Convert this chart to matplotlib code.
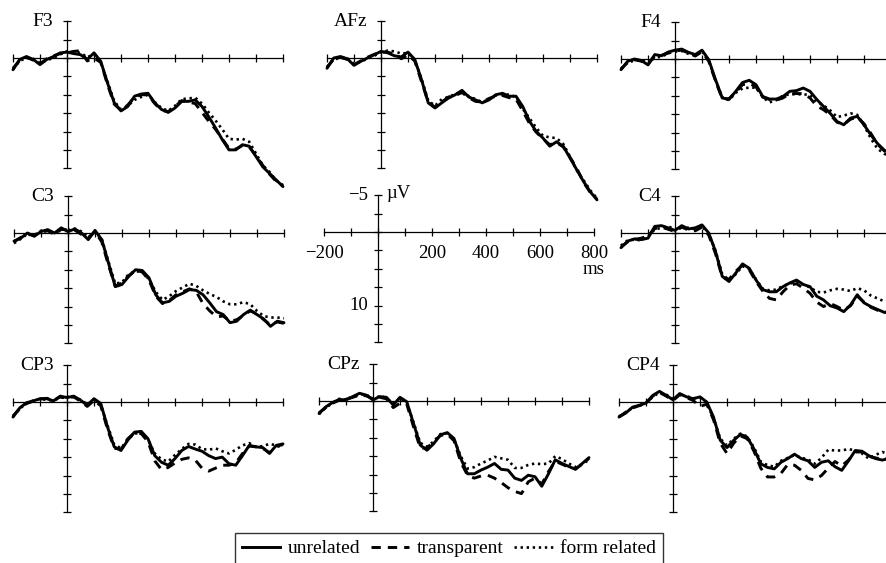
import matplotlib
matplotlib.use("Agg")
import matplotlib.pyplot as plt
from matplotlib.lines import Line2D

plt.rcParams['font.family'] = ['Liberation Serif', 'DejaVu Serif']

# time points (ms) of the sampled waveforms
TIMES = list(range(-200, 825, 25))

# amplitudes in microvolts (negative plotted up), one list per electrode/condition
F3_UNREL = [1.6, 0.2, -0.2, 0.2, 0.9, 0.2, -0.2, -0.7, -0.8, -0.6, -0.45, 0.2, -0.7, 0.45, 3.4, 6.1, 7.2, 6.6, 5.2, 4.9,
            4.8, 6.1, 7.0, 7.4, 6.8, 5.9, 5.9, 5.7, 6.6, 8.0, 9.5, 11.1, 12.5, 12.5, 11.8, 12.0, 13.4, 14.8, 15.7, 16.6, 17.5]
F3_TRANS = [1.4, 0.3, -0.1, 0.3, 0.8, 0.1, -0.3, -0.6, -0.7, -0.9, -1.0, 0.4, 0.0, 0.6, 3.6, 6.3, 7.1, 6.4, 5.3, 5.0,
            5.0, 6.2, 7.1, 7.3, 6.6, 5.8, 6.0, 6.2, 7.4, 8.6, 9.7, 11.0, 12.3, 12.4, 11.9, 12.1, 13.3, 14.6, 15.8, 16.8, 17.4]
F3_FORM = [1.5, 0.4, 0.0, 0.1, 0.7, 0.3, 0.0, -0.5, -0.9, -0.8, -0.7, -0.1, -0.5, 0.6, 3.2, 5.9, 7.0, 6.5, 5.7, 5.3,
           5.0, 6.0, 6.8, 7.2, 6.5, 5.6, 5.5, 5.4, 6.2, 7.4, 8.5, 9.7, 11.0, 11.1, 11.0, 11.4, 13.0, 14.6, 15.5, 16.7, 17.3]

AFZ_UNREL = [1.4, 0.0, -0.2, 0.1, 1.0, 0.45, 0.0, -0.45, -0.9, -0.7, -0.3, -0.15, -0.8, 0.2, 2.95, 6.1, 6.8, 6.1, 5.45, 5.0,
             4.4, 5.3, 5.7, 6.1, 5.7, 5.0, 4.8, 5.2, 5.2, 6.6, 8.6, 10.0, 10.9, 12.0, 11.4, 12.0, 13.6, 15.2, 16.8, 18.2, 19.3]
AFZ_TRANS = [1.3, 0.1, -0.1, 0.2, 0.9, 0.4, -0.1, -0.5, -0.8, -0.8, -0.5, 0.1, -0.4, 0.4, 3.2, 6.0, 6.7, 6.0, 5.3, 5.1,
             4.7, 5.4, 5.9, 6.0, 5.5, 5.2, 5.1, 5.4, 5.6, 7.2, 8.9, 10.1, 11.0, 11.8, 11.5, 12.1, 13.5, 15.0, 16.9, 18.3, 19.2]
AFZ_FORM = [1.2, 0.2, 0.0, 0.0, 0.8, 0.5, 0.1, -0.3, -0.8, -1.0, -0.9, -0.6, -0.7, 0.3, 2.8, 5.8, 6.5, 5.6, 5.3, 4.9,
            4.6, 5.2, 5.6, 6.0, 5.6, 5.1, 4.9, 5.0, 5.3, 6.9, 8.2, 9.5, 10.6, 10.8, 10.9, 11.7, 13.4, 15.3, 16.6, 18.0, 19.1]

F4_UNREL = [1.45, 0.3, 0.0, 0.2, 0.8, -0.6, -0.45, -0.95, -1.2, -1.35, -0.9, -0.6, -1.2, 0.1, 2.8, 5.3, 5.5, 4.4, 3.2, 2.9,
            3.5, 5.1, 5.45, 5.45, 5.1, 4.4, 4.3, 3.95, 4.4, 5.5, 6.45, 7.4, 8.5, 8.95, 8.05, 7.8, 8.95, 10.3, 11.5, 12.4, 12.9]
F4_TRANS = [1.4, 0.4, 0.1, 0.3, 0.7, -0.4, -0.5, -0.8, -1.1, -1.2, -0.8, -0.4, -1.0, 0.3, 3.0, 5.4, 5.4, 4.5, 3.5, 3.3,
            3.8, 5.2, 5.5, 5.6, 5.3, 4.7, 4.7, 4.7, 5.3, 6.4, 6.9, 7.6, 8.6, 8.9, 8.2, 7.9, 8.8, 10.1, 11.6, 12.5, 13.0]
F4_FORM = [1.3, 0.5, 0.2, 0.1, 0.6, -0.2, -0.3, -0.8, -1.0, -1.1, -0.7, -0.5, -1.1, 0.2, 2.9, 5.2, 5.6, 4.6, 4.0, 3.9,
           3.9, 5.2, 5.9, 5.6, 5.0, 4.8, 4.8, 4.8, 4.9, 5.8, 6.3, 7.0, 7.9, 7.7, 7.4, 7.6, 9.0, 10.8, 12.2, 12.9, 13.3]

C3_UNREL = [1.1, 0.7, 0.0, 0.45, -0.2, -0.45, 0.0, -0.7, -0.2, -0.55, 0.0, 0.9, -0.35, 0.9, 4.1, 7.3, 7.0, 5.9, 5.0, 5.1,
            6.1, 8.4, 9.5, 9.3, 8.6, 8.2, 7.7, 7.8, 8.4, 9.5, 10.7, 11.1, 12.2, 12.0, 11.1, 10.5, 11.1, 11.7, 12.7, 12.0, 12.2]
C3_TRANS = [1.2, 0.6, 0.2, 0.3, -0.1, -0.3, 0.2, -0.5, -0.4, -0.4, 0.2, 0.7, -0.2, 1.2, 4.4, 7.2, 6.8, 5.8, 5.1, 5.3,
            6.4, 8.6, 9.6, 9.2, 8.4, 8.0, 7.6, 8.0, 9.6, 10.6, 11.4, 11.3, 12.0, 11.8, 11.2, 10.6, 11.0, 11.8, 12.5, 12.1, 12.3]
C3_FORM = [1.4, 0.8, 0.1, 0.3, -0.3, -0.4, 0.1, -0.5, -0.4, -0.6, -0.2, 0.6, -0.2, 0.8, 3.9, 6.9, 6.7, 5.6, 5.2, 5.3,
           6.3, 8.0, 9.1, 8.6, 7.9, 7.4, 6.9, 7.2, 7.8, 8.3, 8.7, 9.3, 9.7, 9.7, 9.4, 9.7, 10.6, 11.3, 11.5, 11.5, 11.6]

C4_UNREL = [2.0, 1.1, 0.8, 0.9, 0.7, -0.9, -1.0, -0.7, -0.35, -1.0, -0.55, -0.7, -1.1, 0.0, 2.5, 5.9, 6.6, 5.45, 4.2, 4.8,
            6.4, 7.7, 8.0, 8.0, 7.3, 6.8, 6.4, 7.0, 7.3, 8.6, 9.1, 9.9, 10.2, 10.7, 9.8, 8.4, 9.5, 10.0, 10.4, 10.8, 10.9]
C4_TRANS = [1.9, 1.2, 0.9, 0.7, 0.4, -0.6, -0.8, -0.5, -0.2, -0.8, -0.4, -0.3, -0.8, 0.3, 2.8, 6.0, 6.3, 5.2, 4.4, 5.0,
            6.6, 7.9, 8.9, 9.1, 8.0, 7.1, 6.9, 7.5, 8.2, 9.4, 10.0, 9.6, 10.0, 10.5, 9.9, 8.6, 9.4, 10.1, 10.5, 10.7, 10.8]
C4_FORM = [1.7, 1.0, 0.9, 1.0, 0.5, -0.5, -0.7, -0.9, -0.5, -0.8, -0.7, -0.5, -0.9, 0.1, 2.4, 5.6, 6.4, 5.6, 4.5, 4.9,
           6.3, 7.6, 7.8, 7.7, 7.2, 6.9, 6.6, 7.0, 7.4, 8.0, 8.1, 7.8, 7.6, 7.7, 7.9, 7.5, 7.8, 8.5, 8.9, 9.3, 9.2]

CP3_UNREL = [2.05, 0.8, 0.1, -0.15, -0.45, -0.45, -0.15, -0.8, -0.6, -0.8, -0.25, 0.45, -0.45, 0.2, 3.4, 6.1, 6.6, 5.2, 4.1, 4.0,
             5.0, 7.3, 8.2, 8.6, 7.7, 6.6, 6.05, 6.4, 6.7, 7.3, 7.7, 7.5, 8.4, 8.6, 7.3, 5.9, 6.1, 6.2, 7.0, 5.9, 5.7]
CP3_TRANS = [1.9, 0.9, 0.2, -0.1, -0.4, -0.5, -0.2, -0.7, -0.5, -0.7, -0.1, 0.6, -0.2, 0.5, 3.7, 6.3, 6.4, 5.0, 4.2, 4.3,
             5.4, 8.0, 9.2, 8.9, 8.3, 7.8, 7.6, 7.9, 9.0, 9.4, 9.0, 8.6, 8.6, 8.3, 7.0, 6.0, 6.1, 6.3, 6.9, 6.0, 5.8]
CP3_FORM = [2.0, 0.9, 0.2, -0.2, -0.4, -0.3, -0.2, -0.6, -0.7, -0.7, -0.3, 0.3, -0.3, 0.4, 3.2, 5.8, 6.3, 5.1, 4.3, 4.2,
            5.1, 7.0, 7.8, 8.1, 7.2, 6.4, 5.7, 5.8, 6.4, 6.5, 6.3, 6.7, 7.0, 6.5, 5.9, 5.6, 6.1, 6.0, 5.7, 5.9, 6.3]

CPZ_UNREL = [1.7, 0.8, 0.2, -0.2, -0.15, -0.6, -1.05, -0.8, -0.15, -0.6, -0.5, 0.55, -0.5, 0.1, 3.05, 6.0, 6.7, 5.8, 4.6, 4.3,
             5.1, 7.8, 9.9, 9.9, 9.4, 9.0, 8.5, 9.3, 9.4, 10.5, 10.8, 10.1, 10.3, 11.6, 9.9, 8.0, 8.5, 8.9, 9.3, 8.5, 7.7]
CPZ_TRANS = [1.6, 0.9, 0.3, -0.1, -0.3, -0.5, -0.8, -0.7, -0.3, -0.5, -0.3, 0.9, 0.3, 0.4, 3.5, 6.4, 6.4, 5.5, 4.7, 4.5,
             5.4, 8.3, 10.1, 10.5, 10.2, 10.1, 10.5, 11.1, 11.8, 12.3, 12.6, 11.0, 10.5, 11.3, 9.6, 8.2, 8.6, 9.0, 9.2, 8.6, 7.8]
CPZ_FORM = [1.8, 0.9, 0.3, -0.3, -0.2, -0.5, -0.9, -0.9, -0.2, -0.7, -0.4, 0.4, -0.4, 0.3, 2.9, 5.7, 6.2, 5.5, 4.5, 4.4,
            5.2, 7.5, 9.2, 9.0, 8.5, 8.1, 7.6, 7.8, 8.0, 9.1, 9.1, 8.7, 8.5, 8.6, 8.5, 7.5, 7.9, 8.5, 9.0, 8.6, 8.0]

CP4_UNREL = [2.05, 1.5, 0.7, 0.45, 0.15, -0.9, -1.45, -0.9, -0.3, -1.15, -0.7, -0.45, -0.7, 0.0, 2.05, 5.2, 6.2, 5.2, 4.4, 4.8,
             6.4, 8.4, 8.9, 9.1, 8.2, 7.7, 7.1, 7.7, 8.0, 8.9, 8.2, 8.0, 8.8, 9.3, 8.0, 6.6, 6.7, 7.3, 7.7, 7.9, 7.7]
CP4_TRANS = [2.0, 1.4, 0.8, 0.5, 0.2, -0.8, -1.3, -0.8, -0.2, -1.0, -0.6, -0.2, 0.6, 0.3, 2.4, 5.6, 7.0, 5.6, 4.6, 5.0,
             6.7, 9.0, 10.2, 10.2, 9.7, 8.5, 8.6, 9.3, 10.4, 10.6, 10.0, 9.0, 8.1, 8.7, 7.9, 6.8, 6.8, 7.4, 7.6, 7.8, 7.6]
CP4_FORM = [2.0, 1.4, 0.8, 0.5, 0.1, -0.7, -1.3, -1.0, -0.4, -1.0, -0.8, -0.5, -0.6, 0.2, 2.2, 5.0, 5.9, 5.0, 4.3, 4.7,
            6.2, 8.1, 8.6, 8.8, 8.0, 7.6, 7.2, 7.6, 7.8, 8.4, 7.6, 6.5, 6.6, 6.6, 6.4, 6.6, 7.0, 7.7, 7.2, 6.8, 7.1]

CONDITIONS = ['unrelated', 'transparent', 'form related']
X_TICKS = list(range(-200, 900, 100))
Y_TICKS = [-5, -2.5, 0, 2.5, 5, 7.5, 10, 12.5, 15]
SCALE_X_LABELS = [(-200, '\u2212200'), (200, '200'), (400, '400'), (600, '600'), (800, '800')]
SCALE_Y_LABELS = [(-5, '\u22125'), (10, '10')]

# electrode name, data, origin of the panel in pixels (x of 0 ms, y of 0 uV)
PANELS = [
    ('F3', (F3_UNREL, F3_TRANS, F3_FORM), (67, 58)),
    ('AFz', (AFZ_UNREL, AFZ_TRANS, AFZ_FORM), (381, 58)),
    ('F4', (F4_UNREL, F4_TRANS, F4_FORM), (675, 59)),
    ('C3', (C3_UNREL, C3_TRANS, C3_FORM), (68, 233)),
    ('C4', (C4_UNREL, C4_TRANS, C4_FORM), (675, 233)),
    ('CP3', (CP3_UNREL, CP3_TRANS, CP3_FORM), (67, 402)),
    ('CPz', (CPZ_UNREL, CPZ_TRANS, CPZ_FORM), (373, 401)),
    ('CP4', (CP4_UNREL, CP4_TRANS, CP4_FORM), (673, 402)),
]
SCALE_ORIGIN = (378, 232)

W, H = 887, 563
PX_MS = 0.27
PX_UV = 7.35
XLIM = (-230, 830)
YLIM = (20, -7)

STYLES = [
    dict(linestyle='-', linewidth=2.1),
    dict(linestyle=(0, (3.2, 2.4)), linewidth=2.1),
    dict(linestyle=(0, (0.9, 1.4)), linewidth=1.9),
]

fig = plt.figure(figsize=(W / 100, H / 100), dpi=100)


def make_axes(x0, y0):
    left = x0 + XLIM[0] * PX_MS
    width = (XLIM[1] - XLIM[0]) * PX_MS
    top = y0 + YLIM[1] * PX_UV
    height = (YLIM[0] - YLIM[1]) * PX_UV
    ax = fig.add_axes([left / W, 1 - (top + height) / H, width / W, height / H])
    ax.set_xlim(*XLIM)
    ax.set_ylim(*YLIM)
    ax.patch.set_alpha(0)
    for side in ['top', 'right']:
        ax.spines[side].set_visible(False)
    ax.spines['left'].set_position(('data', 0))
    ax.spines['bottom'].set_position(('data', 0))
    ax.spines['left'].set_bounds(-5, 15)
    ax.spines['bottom'].set_bounds(-200, 800)
    for s in ['left', 'bottom']:
        ax.spines[s].set_linewidth(0.9)
    ax.set_xticks(X_TICKS)
    ax.set_yticks(Y_TICKS)
    ax.set_xticklabels([])
    ax.set_yticklabels([])
    ax.tick_params(direction='inout', length=6.3, width=0.9, color='black')
    return ax


for name, series, (x0, y0) in PANELS:
    ax = make_axes(x0, y0)
    for vals, style in reversed(list(zip(series, STYLES))):
        ax.plot(TIMES, vals, color='black', clip_on=False,
                solid_capstyle='round', solid_joinstyle='round',
                dash_capstyle='butt', **style)
    ax.text(-50, -5, name, ha='right', va='center', fontsize=14)

# scale panel in the centre
ax = make_axes(*SCALE_ORIGIN)
for t, lab in SCALE_X_LABELS:
    ax.text(t, 2.9, lab, ha='center', va='center', fontsize=13.5)
ax.text(800, 5.1, 'ms', ha='center', va='center', fontsize=13.5)
for v, lab in SCALE_Y_LABELS:
    ax.text(-37, v, lab, ha='right', va='center', fontsize=13.5)
ax.text(30, -5.3, '\u00b5V', ha='left', va='center', fontsize=13.5)

handles = [Line2D([], [], color='black', **st) for st in STYLES]
leg = fig.legend(handles, CONDITIONS, loc='upper center', bbox_to_anchor=(449 / W, 1 - 533 / H),
                 ncol=3, fontsize=14, frameon=True, fancybox=False, handlelength=2.0,
                 handletextpad=0.4, columnspacing=0.5, borderpad=0.35, borderaxespad=0)
leg.get_frame().set_edgecolor('black')
leg.get_frame().set_linewidth(1.0)

fig.savefig('out.png', dpi=100)
